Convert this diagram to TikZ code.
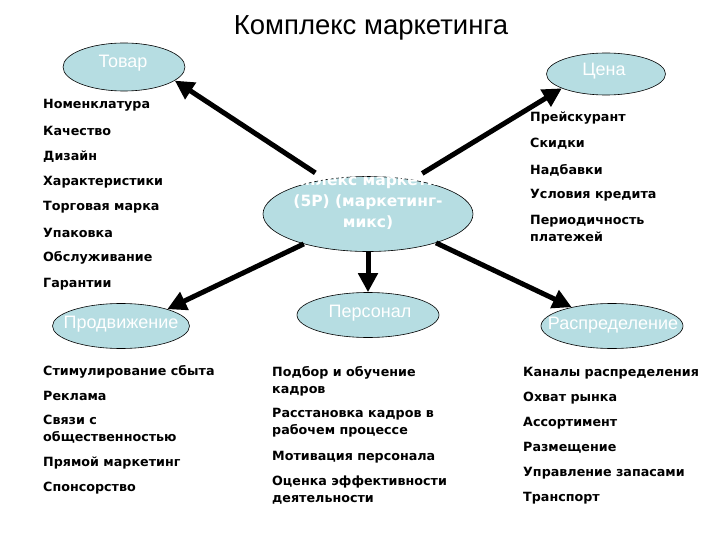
\documentclass[tikz,border=0pt]{standalone}
\usepackage{fontspec}
\setmainfont{Liberation Sans}
\newfontfamily\vf{DejaVu Sans}
\usetikzlibrary{shapes.geometric,arrows.meta}
\definecolor{ellfill}{RGB}{182,221,226}
\begin{document}
\begin{tikzpicture}[x=1pt,y=-1pt,
  ell/.style={ellipse,draw=black,line width=0.6pt,fill=ellfill,inner sep=0pt},
  lbl/.style={text=white,font=\fontsize{18}{20}\selectfont,inner sep=0pt},
  item/.style={anchor=west,inner sep=0pt,font=\vf\bfseries\fontsize{12.7}{17}\selectfont,align=left},
  arr/.style={line width=5pt,-{Triangle[length=19pt,width=19pt]}}]
\useasboundingbox (0,0) rectangle (720,540);
\node[font=\fontsize{27.5}{30}\selectfont] (title) at (371,28) {Комплекс маркетинга};
\node[ell,minimum width=122pt,minimum height=48pt] (tovar) at (124,67) {};
\node[ell,minimum width=119pt,minimum height=42pt] (cena) at (606,74) {};
\node[ell,minimum width=210pt,minimum height=75pt] (c) at (368,214) {};
\node[ell,minimum width=142pt,minimum height=45pt] (pers) at (368,315) {};
\node[ell,minimum width=137pt,minimum height=45pt] (prod) at (121,326) {};
\node[ell,minimum width=142pt,minimum height=45pt] (dist) at (612,326) {};
\node[lbl] (tovarl) at (123,63) {Товар};
\node[lbl] (cenal) at (604,71) {Цена};
\node[lbl] (persl) at (370,313) {Персонал};
\node[lbl] (prodl) at (121,324) {Продвижение};
\node[lbl] (distl) at (613,325) {Распределение};
\draw[arr,shorten <=12pt] (c.141) -- (tovar.-15);
\draw[arr,shorten <=12pt] (c.38) -- (cena.198);
\draw[arr] (c.south) -- (pers.north);
\draw[arr] (c.205) -- (prod.20);
\draw[arr] (c.-23) -- (dist.155);
\node[font=\vf\bfseries\fontsize{15.5}{21}\selectfont,text=white,align=center] (ct) at (368,202)
  {Комплекс маркетинга\\(5P) (маркетинг-\\микс)};
% Товар
\node[item] (t1) at (43,105) {Номенклатура};
\node[item] (t2) at (43,131) {Качество};
\node[item] (t3) at (43,157) {Дизайн};
\node[item] (t4) at (43,182) {Характеристики};
\node[item] (t5) at (43,207) {Торговая марка};
\node[item] (t6) at (43,233) {Упаковка};
\node[item] (t7) at (43,258) {Обслуживание};
\node[item] (t8) at (43,284) {Гарантии};
% Цена
\node[item] (p1) at (530,118) {Прейскурант};
\node[item] (p2) at (530,144) {Скидки};
\node[item] (p3) at (530,170) {Надбавки};
\node[item] (p4) at (530,195) {Условия кредита};
\node[item] (p5) at (530,228) {Периодичность\\платежей};
% Продвижение
\node[item] (s1) at (43,372) {Стимулирование сбыта};
\node[item] (s2) at (43,396) {Реклама};
\node[item] (s3) at (43,429) {Связи с\\общественностью};
\node[item] (s4) at (43,463) {Прямой маркетинг};
\node[item] (s5) at (43,488) {Спонсорство};
% Персонал
\node[item] (h1) at (272,381) {Подбор и обучение\\кадров};
\node[item] (h2) at (272,423) {Расстановка кадров в\\рабочем процессе};
\node[item] (h3) at (272,457) {Мотивация персонала};
\node[item] (h4) at (272,490) {Оценка эффективности\\деятельности};
% Распределение
\node[item] (d1) at (523,373) {Каналы распределения};
\node[item] (d2) at (523,398) {Охват рынка};
\node[item] (d3) at (523,423) {Ассортимент};
\node[item] (d4) at (523,448) {Размещение};
\node[item] (d5) at (523,473) {Управление запасами};
\node[item] (d6) at (523,498) {Транспорт};
\end{tikzpicture}
\end{document}
